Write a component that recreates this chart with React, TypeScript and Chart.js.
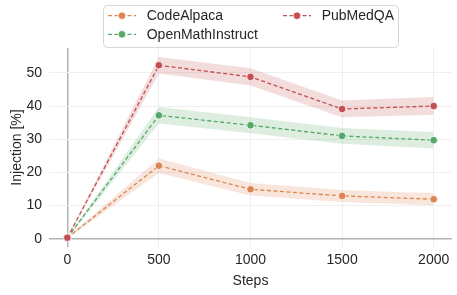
import React, { useEffect, useRef } from "react";
import { Chart, registerables } from "chart.js";

Chart.register(...registerables);

const steps = [0, 500, 1000, 1500, 2000];
const xTicks = [0, 500, 1000, 1500, 2000];
const yTicks = [0, 10, 20, 30, 40, 50];

const codeAlpaca = [0.3, 22.0, 14.9, 12.9, 11.9];
const codeAlpacaLo = [0.1, 19.8, 13.0, 11.1, 10.1];
const codeAlpacaHi = [0.5, 24.2, 16.8, 14.7, 13.7];

const openMath = [0.3, 37.2, 34.2, 31.0, 29.7];
const openMathLo = [0.1, 34.7, 31.8, 28.6, 27.2];
const openMathHi = [0.5, 39.7, 36.6, 33.4, 32.2];

const pubMed = [0.3, 52.3, 48.8, 39.1, 40.0];
const pubMedLo = [0.1, 49.8, 46.2, 36.6, 37.4];
const pubMedHi = [0.5, 54.8, 51.4, 41.7, 42.7];

const labels = ["CodeAlpaca", "OpenMathInstruct", "PubMedQA"];
const colors = ["#dd8452", "#55a868", "#c44e52"];
const bandColors = ["rgba(221,132,82,0.2)", "rgba(85,168,104,0.2)", "rgba(196,78,82,0.2)"];

const FONT = "'Liberation Sans', Arial, Helvetica, sans-serif";
const TEXT = "#262626";
const FS = 14;

const toPts = (ys: number[]) => steps.map((x, i) => ({ x, y: ys[i] }));

const legendPlugin = {
  id: "customLegend",
  afterDraw(chart: any) {
    const ctx = chart.ctx;
    ctx.save();
    const bx = 103.5, by = 5.5, bw = 295, bh = 42;
    const r = 4;
    ctx.beginPath();
    ctx.moveTo(bx + r, by);
    ctx.lineTo(bx + bw - r, by);
    ctx.quadraticCurveTo(bx + bw, by, bx + bw, by + r);
    ctx.lineTo(bx + bw, by + bh - r);
    ctx.quadraticCurveTo(bx + bw, by + bh, bx + bw - r, by + bh);
    ctx.lineTo(bx + r, by + bh);
    ctx.quadraticCurveTo(bx, by + bh, bx, by + bh - r);
    ctx.lineTo(bx, by + r);
    ctx.quadraticCurveTo(bx, by, bx + r, by);
    ctx.closePath();
    ctx.fillStyle = "rgba(255,255,255,0.85)";
    ctx.fill();
    ctx.strokeStyle = "#d6d6d6";
    ctx.lineWidth = 1;
    ctx.stroke();

    const items = [
      { i: 0, col: 0, row: 0 },
      { i: 2, col: 1, row: 0 },
      { i: 1, col: 0, row: 1 },
    ];
    items.forEach(({ i, col, row }) => {
      const x0 = 108 + col * 175;
      const y = 15.7 + row * 18.6;
      ctx.strokeStyle = colors[i];
      ctx.lineWidth = 1.3;
      ctx.setLineDash([4, 2.5]);
      ctx.beginPath();
      ctx.moveTo(x0, y);
      ctx.lineTo(x0 + 28, y);
      ctx.stroke();
      ctx.setLineDash([]);
      ctx.beginPath();
      ctx.arc(x0 + 14, y, 3.8, 0, Math.PI * 2);
      ctx.fillStyle = colors[i];
      ctx.fill();
      ctx.strokeStyle = "#ffffff";
      ctx.lineWidth = 0.8;
      ctx.stroke();
      ctx.fillStyle = TEXT;
      ctx.font = `${FS}px ${FONT}`;
      ctx.textBaseline = "middle";
      ctx.textAlign = "left";
      ctx.fillText(labels[i], x0 + 38.7, y + 0.5);
    });
    ctx.restore();
  },
};

export default function App() {
  const ref = useRef<HTMLCanvasElement | null>(null);

  useEffect(() => {
    if (!ref.current) return;
    const means = [codeAlpaca, openMath, pubMed];
    const los = [codeAlpacaLo, openMathLo, pubMedLo];
    const his = [codeAlpacaHi, openMathHi, pubMedHi];
    const datasets: any[] = [];
    for (let k = 0; k < 3; k++) {
      datasets.push({
        label: labels[k] + " lo",
        data: toPts(los[k]),
        borderWidth: 0,
        pointRadius: 0,
        fill: false,
        order: 20 + k,
      });
      datasets.push({
        label: labels[k] + " hi",
        data: toPts(his[k]),
        borderWidth: 0,
        pointRadius: 0,
        fill: "-1",
        backgroundColor: bandColors[k],
        order: 20 + k,
      });
    }
    for (let k = 0; k < 3; k++) {
      datasets.push({
        label: labels[k],
        data: toPts(means[k]),
        borderColor: colors[k],
        backgroundColor: colors[k],
        borderWidth: 1.3,
        borderDash: [4, 2.5],
        pointRadius: 3.8,
        pointBackgroundColor: colors[k],
        pointBorderColor: "#ffffff",
        pointBorderWidth: 0.8,
        fill: false,
        tension: 0,
        order: 2 - k,
      });
    }

    const gridColor = (c: any) =>
      c.tick && c.tick.value === 0 ? "#b3b3b3" : "#efefef";
    const gridWidth = (c: any) => (c.tick && c.tick.value === 0 ? 1.5 : 1);

    const chart = new Chart(ref.current, {
      type: "line",
      data: { datasets },
      plugins: [legendPlugin],
      options: {
        animation: false,
        responsive: false,
        maintainAspectRatio: false,
        layout: { padding: { top: 48, right: 5, left: 0, bottom: 0 } },
        plugins: {
          legend: { display: false },
          tooltip: { enabled: false },
        },
        scales: {
          x: {
            type: "linear",
            min: -100,
            max: 2100,
            afterBuildTicks: (s: any) => {
              s.ticks = xTicks.map((v) => ({ value: v }));
            },
            afterFit: (s: any) => {
              s.height = 48;
            },
            grid: { color: gridColor, lineWidth: gridWidth, drawTicks: false },
            border: { display: false },
            ticks: {
              padding: 5,
              color: TEXT,
              font: { size: FS, family: FONT },
              maxRotation: 0,
              callback: (v: any) => String(v),
            },
            title: {
              display: true,
              text: "Steps",
              color: TEXT,
              font: { size: FS, family: FONT },
              padding: { top: 0, bottom: 5 },
            },
          },
          y: {
            type: "linear",
            min: -2.5,
            max: 57.5,
            afterBuildTicks: (s: any) => {
              s.ticks = yTicks.map((v) => ({ value: v }));
            },
            afterFit: (s: any) => {
              s.width = 49;
            },
            grid: { color: gridColor, lineWidth: gridWidth, drawTicks: false },
            border: { display: false },
            ticks: {
              padding: 7,
              color: TEXT,
              font: { size: FS, family: FONT },
              callback: (v: any) => String(v),
            },
            title: {
              display: true,
              text: "Injection [%]",
              color: TEXT,
              font: { size: FS, family: FONT },
              padding: { top: 8.5, bottom: 0 },
            },
          },
        },
      },
    });
    return () => chart.destroy();
  }, []);

  return (
    <div style={{ position: "fixed", left: 0, top: 0, width: 457, height: 295, background: "#fff" }}>
      <canvas ref={ref} width={457} height={295} style={{ width: 457, height: 295 }} />
    </div>
  );
}
